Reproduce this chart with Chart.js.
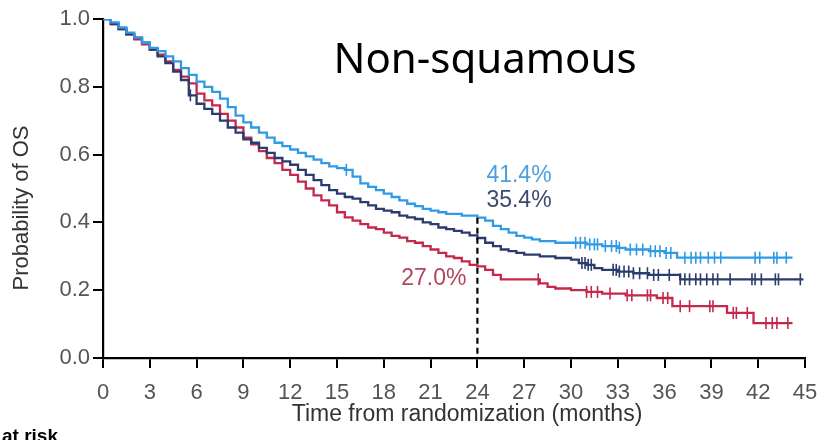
<!DOCTYPE html>
<html>
<head>
<meta charset="utf-8">
<script src="https://cdn.jsdelivr.net/npm/chart.js@4.4.1/dist/chart.umd.min.js"></script>
<style>
  html, body { margin: 0; padding: 0; background: #fff; }
  #wrap { width: 821px; height: 440px; }
</style>
</head>
<body>
<div id="wrap"><canvas id="km" width="821" height="440"></canvas></div>
<script>
// Kaplan-Meier overall survival, three arms (months, probability)
const lightTimes = [0,0.5,1,1.5,2,2.5,3,3.5,4,4.5,5,5.5,6,6.5,7,7.5,8,8.5,9,9.5,10,10.5,11,11.5,12,12.5,13,13.5,14,14.5,15,15.5,16,16.5,17,17.5,18,18.5,19,19.5,20,20.5,21,21.5,22,23,24,24.5,25,25.5,26,26.5,27,27.5,28,29,31,32,33,33.5,35,36,36.8,44.2];
const lightSurv  = [1,0.99,0.975,0.96,0.945,0.93,0.915,0.905,0.89,0.875,0.855,0.835,0.815,0.80,0.785,0.765,0.74,0.715,0.695,0.68,0.665,0.65,0.635,0.625,0.615,0.605,0.595,0.585,0.575,0.565,0.56,0.555,0.535,0.515,0.505,0.495,0.485,0.475,0.465,0.455,0.448,0.44,0.435,0.43,0.425,0.42,0.414,0.405,0.39,0.38,0.37,0.36,0.355,0.35,0.345,0.34,0.335,0.33,0.325,0.32,0.315,0.31,0.296,0.296];

const navyTimes = [0,0.5,1,1.5,2,2.5,3,3.5,4,4.5,5,5.5,6,6.5,7,7.5,8,8.5,9,9.5,10,10.5,11,11.5,12,12.5,13,13.5,14,14.5,15,15.5,16,16.5,17,17.5,18,18.5,19,19.5,20,20.5,21,21.5,22,22.5,23,23.5,24,24.5,25,25.5,26,26.5,27,28,29,30,30.5,31,31.5,32,33,34,35,37,44.9];
const navySurv  = [1,0.985,0.97,0.955,0.945,0.93,0.91,0.89,0.87,0.845,0.82,0.775,0.75,0.735,0.72,0.70,0.68,0.665,0.645,0.635,0.62,0.605,0.59,0.58,0.57,0.555,0.54,0.525,0.51,0.495,0.485,0.475,0.47,0.46,0.45,0.44,0.435,0.43,0.42,0.415,0.41,0.40,0.395,0.385,0.38,0.375,0.37,0.362,0.354,0.34,0.33,0.32,0.315,0.31,0.305,0.30,0.295,0.29,0.28,0.275,0.265,0.26,0.255,0.25,0.245,0.232,0.232];

const redTimes = [0,0.5,1,1.5,2,2.5,3,3.5,4,4.5,5,5.5,6,6.5,7,7.5,8,8.5,9,9.5,10,10.5,11,11.5,12,12.5,13,13.5,14,14.5,15,15.5,16,16.5,17,17.5,18,18.5,19,19.5,20,20.5,21,21.5,22,22.5,23,23.5,24,24.5,25,25.5,28,28.5,29,30,31,32,33.5,35.5,36.5,40,41.7,44.2];
const redSurv  = [1,0.985,0.97,0.955,0.94,0.925,0.91,0.895,0.875,0.85,0.83,0.81,0.78,0.76,0.745,0.72,0.70,0.68,0.65,0.63,0.61,0.59,0.575,0.555,0.54,0.52,0.50,0.48,0.465,0.45,0.43,0.415,0.405,0.395,0.385,0.38,0.37,0.36,0.355,0.345,0.34,0.33,0.32,0.31,0.30,0.295,0.285,0.275,0.27,0.26,0.245,0.232,0.22,0.21,0.205,0.20,0.195,0.19,0.185,0.177,0.153,0.133,0.103,0.103];

// Censoring times (months)
const lightCensor = [15.6,30.3,30.6,30.9,31.2,31.5,31.7,32.2,32.6,32.9,33.1,33.8,34.2,34.6,35.1,35.4,35.7,36.1,36.4,37.3,37.7,38.0,38.3,38.8,39.2,39.6,41.8,42.1,43.0,43.2,43.8];
const navyCensor  = [5.6,30.7,30.9,31.1,31.3,32.7,32.9,33.1,33.4,33.7,34.0,34.4,34.9,35.3,35.6,36.3,37.0,37.3,37.6,38.0,38.3,38.7,39.1,39.4,40.2,41.6,41.8,42.2,43.1,43.3,44.7];
const redCensor   = [27.9,31.0,31.3,31.7,32.5,33.6,33.9,34.9,35.1,35.9,36.2,37.0,37.6,38.9,39.1,40.4,40.6,41.3,42.5,42.9,43.2,43.9];

// Axis ticks
const xTicks = [0,3,6,9,12,15,18,21,24,27,30,33,36,39,42,45];
const yTicks = [0,0.2,0.4,0.6,0.8,1.0];

const landmarkMonth = 24;
const panelTitle = 'Non-squamous';
const xTitle = 'Time from randomization (months)';
const yTitle = 'Probability of OS';

const colLight = '#2f9be6';
const colNavy  = '#2a3b6d';
const colRed   = '#c4294b';

function survAt(times, surv, t) {
  let v = surv[0];
  for (let i = 0; i < times.length; i++) {
    if (times[i] <= t) v = surv[i]; else break;
  }
  return v;
}
function curve(times, surv) {
  return times.map((t, i) => ({ x: t, y: surv[i] }));
}
function marks(c, times, surv) {
  return c.map(t => ({ x: t, y: survAt(times, surv, t) }));
}

const lineDs = (label, times, surv, color) => ({
  label, data: curve(times, surv), type: 'line', stepped: true,
  borderColor: color, borderWidth: 2.3, pointRadius: 0, fill: false, order: 2
});
const markDs = (label, c, times, surv, color) => ({
  label, data: marks(c, times, surv), type: 'scatter', showLine: false,
  pointStyle: 'line', rotation: 90, pointRadius: 6, borderColor: color,
  backgroundColor: color, pointBorderWidth: 1.6, borderWidth: 1.6, order: 1
});

const labelsPlugin = {
  id: 'kmAnnotations',
  afterDraw(chart) {
    const { ctx, scales: { x, y } } = chart;
    ctx.save();
    // landmark line
    const lx = x.getPixelForValue(landmarkMonth);
    const vLight = survAt(lightTimes, lightSurv, landmarkMonth);
    const vNavy  = survAt(navyTimes, navySurv, landmarkMonth);
    const vRed   = survAt(redTimes, redSurv, landmarkMonth);
    ctx.strokeStyle = '#000';
    ctx.lineWidth = 2.2;
    ctx.setLineDash([6, 4]);
    ctx.beginPath();
    ctx.moveTo(lx, y.getPixelForValue(vLight));
    ctx.lineTo(lx, y.getPixelForValue(0));
    ctx.stroke();
    ctx.setLineDash([]);

    const pct = v => (v * 100).toFixed(1) + '%';
    ctx.font = '23px "Liberation Sans", Arial, sans-serif';
    ctx.textBaseline = 'middle';
    ctx.textAlign = 'left';
    ctx.fillStyle = '#4d9fe0';
    ctx.fillText(pct(vLight), lx + 9, y.getPixelForValue(vLight) - 42);
    ctx.fillStyle = '#3d4a6d';
    ctx.fillText(pct(vNavy), lx + 9, y.getPixelForValue(vLight) - 17);
    ctx.textAlign = 'right';
    ctx.fillStyle = '#b3435f';
    ctx.fillText(pct(vRed), lx - 11, y.getPixelForValue(vRed) + 12);

    // panel title
    ctx.fillStyle = '#000';
    ctx.textAlign = 'center';
    ctx.textBaseline = 'alphabetic';
    ctx.font = '42px "Noto Sans", "Open Sans", sans-serif';
    ctx.fillText(panelTitle, 485, 73);

    // axis titles
    ctx.fillStyle = '#333';
    ctx.font = '23px "Liberation Sans", Arial, sans-serif';
    ctx.textBaseline = 'middle';
    ctx.fillText(xTitle, 467, 415);
    ctx.save();
    ctx.translate(22, 208);
    ctx.rotate(-Math.PI / 2);
    ctx.font = '22px "Liberation Sans", Arial, sans-serif';
    ctx.fillText(yTitle, 0, 0);
    ctx.restore();

    // risk table heading
    ctx.fillStyle = '#000';
    ctx.textAlign = 'left';
    ctx.textBaseline = 'alphabetic';
    ctx.font = 'bold 19px "Liberation Sans", Arial, sans-serif';
    ctx.fillText('at risk', 2, 442);
    ctx.restore();
  }
};

new Chart(document.getElementById('km'), {
  data: {
    datasets: [
      lineDs('Arm A', lightTimes, lightSurv, colLight),
      lineDs('Arm B', navyTimes, navySurv, colNavy),
      lineDs('Arm C', redTimes, redSurv, colRed),
      markDs('Arm A censored', lightCensor, lightTimes, lightSurv, colLight),
      markDs('Arm B censored', navyCensor, navyTimes, navySurv, colNavy),
      markDs('Arm C censored', redCensor, redTimes, redSurv, colRed)
    ]
  },
  options: {
    responsive: false,
    animation: false,
    layout: { padding: { top: 19, right: 16, left: 0, bottom: 0 } },
    plugins: { legend: { display: false }, tooltip: { enabled: false } },
    scales: {
      x: {
        type: 'linear', min: 0, max: 45,
        afterBuildTicks(s) { s.ticks = xTicks.map(v => ({ value: v })); },
        afterFit(s) { s.height = 82; s.paddingRight = 0; s.paddingLeft = 0; },
        grid: { drawOnChartArea: false, drawTicks: true, tickLength: 10, color: '#000', lineWidth: 2 },
        border: { color: '#000', width: 2.2 },
        ticks: {
          color: '#555', padding: 12, maxRotation: 0, autoSkip: false,
          font: { family: '"Liberation Sans", Arial, sans-serif', size: 22 },
          callback: v => String(v)
        }
      },
      y: {
        type: 'linear', min: 0, max: 1,
        afterBuildTicks(s) { s.ticks = yTicks.map(v => ({ value: v })); },
        afterFit(s) { s.width = 103; s.paddingTop = 0; s.paddingBottom = 0; },
        grid: { drawOnChartArea: false, drawTicks: true, tickLength: 10, color: '#000', lineWidth: 2 },
        border: { color: '#000', width: 2.2 },
        ticks: {
          color: '#555', padding: 3,
          font: { family: '"Liberation Sans", Arial, sans-serif', size: 22 },
          callback: v => Number(v).toFixed(1)
        }
      }
    }
  },
  plugins: [labelsPlugin]
});
</script>
</body>
</html>
